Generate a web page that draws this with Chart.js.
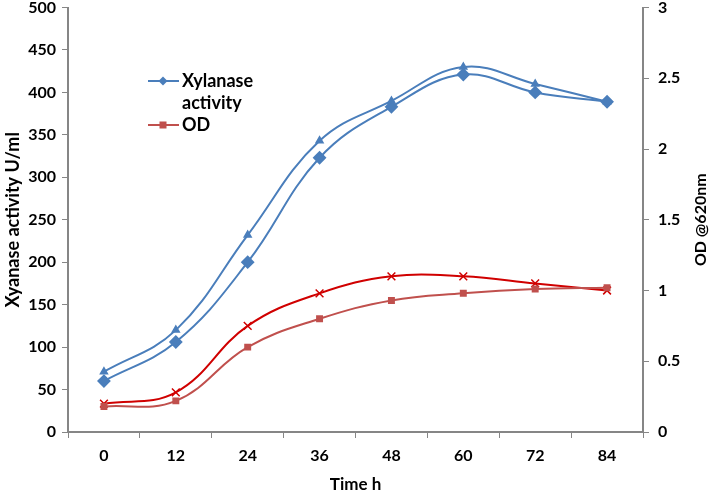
<!DOCTYPE html>
<html><head><meta charset="utf-8">
<script src="https://cdn.jsdelivr.net/npm/chart.js@4"></script>
<style>html,body{margin:0;padding:0;background:#fff}#wrap{width:709px;height:490px}</style>
</head><body><div id="wrap"><canvas id="c" width="709" height="490"></canvas></div>
<script>
const categories = ['0','12','24','36','48','60','72','84'];
const xylanase = [60, 106, 200, 323, 383, 421, 400, 389];
const xylanase2 = [71, 120, 232, 343, 390, 430, 410, 389];
const od = [0.18, 0.22, 0.6, 0.8, 0.93, 0.98, 1.01, 1.02];
const od2 = [0.2, 0.28, 0.75, 0.98, 1.1, 1.1, 1.05, 1.0];
const leftTicks = [0,50,100,150,200,250,300,350,400,450,500];
const rightTicks = [0,0.5,1,1.5,2,2.5,3];

const BLUE = '#4A7EBB', RED_SQ = '#C0504D', RED_X = '#D00000', AX = '#868686';
const FONT = 'Lato, "Open Sans", sans-serif';

const legendPlugin = {
  id: 'inlegend',
  afterDraw(chart) {
    const ctx = chart.ctx;
    const items = [
      {ds: chart.data.datasets[0], lines: ['Xylanase','activity'], y: 81},
      {ds: chart.data.datasets[2], lines: ['OD'], y: 125}
    ];
    ctx.save();
    items.forEach(it => {
      ctx.strokeStyle = it.ds.borderColor; ctx.lineWidth = 2;
      ctx.beginPath(); ctx.moveTo(148, it.y); ctx.lineTo(179, it.y); ctx.stroke();
      ctx.fillStyle = it.ds.pointBackgroundColor;
      if (it.ds.pointStyle === 'rectRot') {
        ctx.beginPath(); ctx.moveTo(163, it.y-4.5); ctx.lineTo(167.5, it.y); ctx.lineTo(163, it.y+4.5); ctx.lineTo(158.5, it.y); ctx.closePath(); ctx.fill();
      } else { ctx.fillRect(159.5, it.y-3.5, 7, 7); }
      ctx.fillStyle = '#000'; ctx.font = 'bold 18px ' + FONT; ctx.textBaseline = 'middle';
      it.lines.forEach((t, i) => ctx.fillText(t, 182, it.y + i*22));
    });
    // right axis title, reading bottom-to-top
    const a = chart.chartArea;
    ctx.translate(701, (a.top + a.bottom) / 2);
    ctx.rotate(-Math.PI / 2);
    ctx.font = 'bold 16px ' + FONT; ctx.textAlign = 'center'; ctx.textBaseline = 'middle';
    ctx.fillText('OD @620nm', 0, 0);
    ctx.restore();
  }
};

function noPadV(s) { s.paddingTop = 0; s.paddingBottom = 0; }

new Chart(document.getElementById('c'), {
  type: 'line',
  data: {
    labels: categories,
    datasets: [
      {label: 'Xylanase activity', data: xylanase, yAxisID: 'y', borderColor: BLUE, backgroundColor: BLUE, pointBackgroundColor: BLUE, pointBorderColor: BLUE, pointStyle: 'rectRot', pointRadius: 5.5, borderWidth: 2, tension: 0.4},
      {label: 'Xylanase 2', data: xylanase2, yAxisID: 'y', borderColor: BLUE, backgroundColor: BLUE, pointBackgroundColor: BLUE, pointBorderColor: BLUE, pointStyle: 'triangle', pointRadius: 3.5, borderWidth: 2, tension: 0.4},
      {label: 'OD', data: od, yAxisID: 'y1', borderColor: RED_SQ, backgroundColor: RED_SQ, pointBackgroundColor: RED_SQ, pointBorderColor: RED_SQ, pointStyle: 'rect', pointRadius: 3.5, borderWidth: 2, tension: 0.4},
      {label: 'OD 2', data: od2, yAxisID: 'y1', borderColor: RED_X, backgroundColor: RED_X, pointBackgroundColor: RED_X, pointBorderColor: RED_X, pointStyle: 'crossRot', pointRadius: 5.5, pointBorderWidth: 1.5, borderWidth: 2, tension: 0.4}
    ]
  },
  options: {
    responsive: false, animation: false,
    layout: {padding: {top: 5, right: 0, left: 0, bottom: 0}},
    plugins: {legend: {display: false}, tooltip: {enabled: false}},
    scales: {
      x: {
        offset: true,
        grid: {offset: true, drawOnChartArea: false, color: AX, tickLength: 6},
        border: {color: AX, width: 2},
        ticks: {color: '#000', font: {family: FONT, size: 16, weight: 'bold'}, padding: 8},
        title: {display: true, text: 'Time h', color: '#000', font: {family: FONT, size: 17, weight: 'bold', lineHeight: 1}, padding: {top: 0, bottom: -3}},
        afterFit(s) { s.height = 58; s.paddingLeft = 0; s.paddingRight = 0; }
      },
      y: {
        position: 'left', min: 0, max: 500,
        afterBuildTicks(s) { s.ticks = leftTicks.map(v => ({value: v})); },
        grid: {drawOnChartArea: false, color: AX, tickLength: 6},
        border: {color: AX, width: 2},
        ticks: {color: '#000', font: {family: FONT, size: 16, weight: 'bold'}, padding: 6},
        title: {display: true, text: 'Xyanase activity U/ml', color: '#000', font: {family: FONT, size: 18, weight: 'bold', lineHeight: 1}, padding: {top: 4, bottom: 0}},
        afterFit(s) { s.width = 68; noPadV(s); }
      },
      y1: {
        position: 'right', min: 0, max: 3,
        afterBuildTicks(s) { s.ticks = rightTicks.map(v => ({value: v})); },
        grid: {drawOnChartArea: false, color: AX, tickLength: 6},
        border: {color: AX, width: 2},
        ticks: {color: '#000', font: {family: FONT, size: 16, weight: 'bold'}, padding: 9, callback: v => String(v)},
        title: {display: false},
        afterFit(s) { s.width = 66; noPadV(s); }
      }
    }
  },
  plugins: [legendPlugin]
});
</script></body></html>
